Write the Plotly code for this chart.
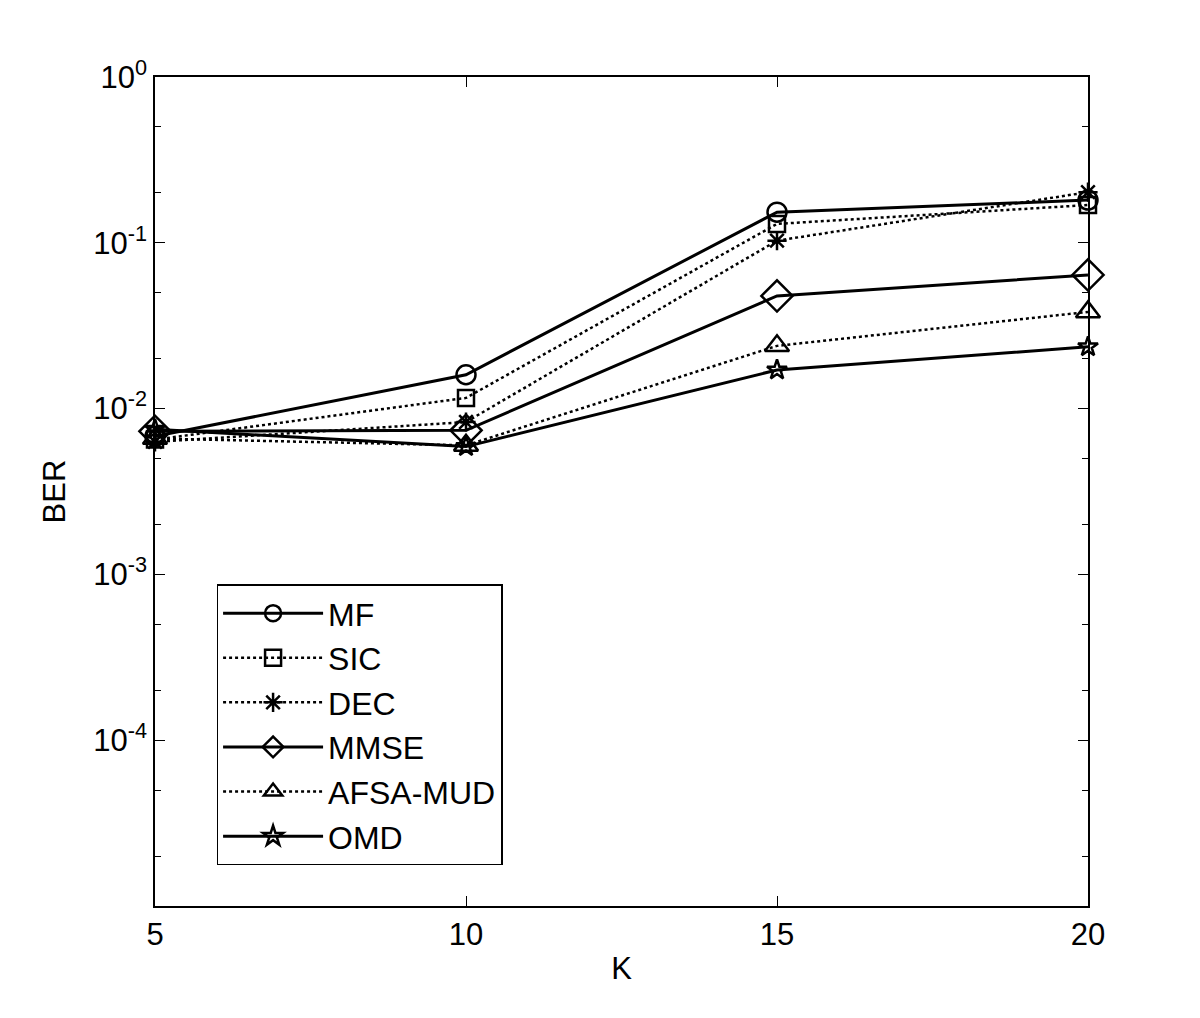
import plotly.graph_objects as go

K = [5, 10, 15, 20]
names = ["MF", "SIC", "DEC", "MMSE", "AFSA-MUD", "OMD"]
MF = [0.0068, 0.0160, 0.153, 0.181]
SIC = [0.0065, 0.0116, 0.130, 0.169]
DEC = [0.0063, 0.0083, 0.103, 0.202]
MMSE = [0.0073, 0.0074, 0.0478, 0.064]
AFSA = [0.0066, 0.0060, 0.0239, 0.0383]
OMD = [0.0075, 0.0059, 0.0171, 0.0236]
series = [MF, SIC, DEC, MMSE, AFSA, OMD]
ytickvals = [1, 0.1, 0.01, 0.001, 0.0001]
yticktext = ["10<sup>0</sup>", "10<sup>-1</sup>", "10<sup>-2</sup>", "10<sup>-3</sup>", "10<sup>-4</sup>"]

symbols = ["circle-open", "square-open", "asterisk-open", "diamond-open", "triangle-up-open", "star-open"]
dashes = ["solid", "dot", "dot", "solid", "dot", "solid"]
widths = [3, 2.5, 2.5, 3, 2.5, 3]
sizes = [19, 16, 16, 24, 21, 15]

FONT = "Liberation Sans, Arial"
fig = go.Figure()
for n, s, sym, d, w, sz in zip(names, series, symbols, dashes, widths, sizes):
    fig.add_trace(go.Scatter(
        x=K, y=s, name=n, mode="lines+markers", cliponaxis=False,
        line=dict(color="black", width=w, dash=d),
        marker=dict(symbol=sym, size=sz, color="black", line=dict(color="black", width=2.5)),
    ))

axis_common = dict(showline=True, linecolor="black", linewidth=1.5, mirror="ticks",
                   ticks="inside", ticklen=10, tickcolor="black", showgrid=False, zeroline=False,
                   tickfont=dict(family=FONT, size=31, color="black"))
fig.update_xaxes(range=[5, 20], tickvals=K,
                 title=dict(text="K", font=dict(family=FONT, size=31, color="black"), standoff=6),
                 **axis_common)
fig.update_yaxes(type="log", range=[-5, 0], tickvals=ytickvals, ticktext=yticktext,
                 minor=dict(ticks="inside", ticklen=6, tickcolor="black", showgrid=False),
                 title=dict(text="BER", font=dict(family=FONT, size=31, color="black"), standoff=18),
                 **axis_common)
fig.update_layout(
    width=1200, height=1018,
    margin=dict(l=147, r=120, t=69, b=120),
    paper_bgcolor="white", plot_bgcolor="white",
    showlegend=True,
    legend=dict(x=0.066, y=0.388, xanchor="left", yanchor="top",
                bgcolor="white", bordercolor="black", borderwidth=1.5,
                font=dict(family=FONT, size=32, color="black"),
                tracegroupgap=0, itemwidth=100),
)
fig.write_html("out.html")
